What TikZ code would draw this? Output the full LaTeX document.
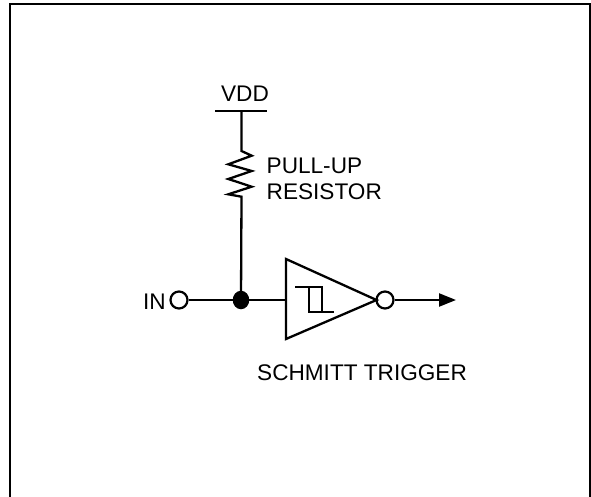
\documentclass[tikz,border=0pt]{standalone}
\usepackage{fontspec}
\setmainfont{Liberation Sans}
\usetikzlibrary{arrows.meta,shapes.geometric}
\tikzset{
  px/.style={x=1pt,y=-1pt},
  wire/.style={line width=2.3pt,line join=miter},
  thinwire/.style={line width=1.8pt,line join=miter},
  lab/.style={font=\fontsize{22.6}{25}\selectfont,inner sep=0pt,text=black},
  pin/.style={circle,draw,line width=2.2pt,fill=white,minimum size=17pt,inner sep=0pt}
}
\begin{document}
\begin{tikzpicture}[px]
\useasboundingbox (0,0) rectangle (591,497);
\fill[white] (0,0) rectangle (591,497);
\draw[line width=2pt] (10,497) -- (10,4) -- (590,4) -- (590,497);
\coordinate (vddl) at (215,111);
\coordinate (vddr) at (267,111);
\coordinate (vdd) at (241.5,111);
\coordinate (rtop) at (241.5,151);
\coordinate (rbot) at (241.5,196.7);
\node[ellipse,fill=black,minimum width=16.5pt,minimum height=18.5pt,inner sep=0pt] (junc) at (241,300) {};
\node[pin] (in) at (179,300) {};
\node[pin] (out) at (385,300) {};
\coordinate (end) at (456,300);
\coordinate (tl) at (286,259);
\coordinate (bl) at (286,339);
\coordinate (apex) at (376.5,300);
\coordinate (tin) at (286,300);
\draw[wire] (vddl) -- (vddr);
\draw[wire] (vdd) -- (rtop) -- (251.7,155.7) -- (228.3,164.3) -- (251.7,171) -- (228.3,179) -- (251.7,186.7) -- (228.3,194.3) -- (rbot) -- (junc.center);
\draw[wire] (in) -- (junc);
\draw[wire] (junc) -- (tin);
\draw[wire] (tl) -- (apex) -- (bl) -- cycle;
\draw[wire,-{Triangle[length=17pt,width=13pt]}] (out) -- (end);
\draw[thinwire] (295,287) -- (322,287) -- (322,312);
\draw[thinwire] (309,287) -- (309,312) -- (334,312);
\node[lab,anchor=base] (vddt) at (245,102) {VDD};
\node[lab,anchor=base west] (pu) at (266.5,174) {PULL-UP};
\node[lab,anchor=base west] (re) at (266.5,200) {RESISTOR};
\node[lab,anchor=base east] (int) at (166,309) {IN};
\node[lab,anchor=base west] (st) at (257,380) {SCHMITT TRIGGER};
\end{tikzpicture}
\end{document}
